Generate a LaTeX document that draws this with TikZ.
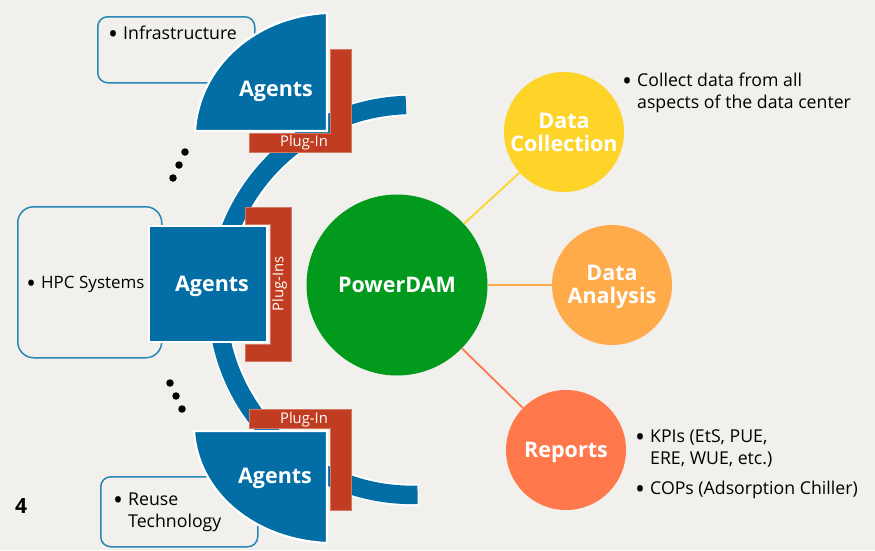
\documentclass[tikz,border=0pt]{standalone}
\usepackage{fontspec}
\setmainfont{Open Sans}
\definecolor{bgc}{HTML}{F1F0EC}
\definecolor{agentblue}{HTML}{026EA5}
\definecolor{boxblue}{HTML}{2A86B6}
\definecolor{plugred}{HTML}{C13D22}
\definecolor{dgreen}{HTML}{029A1C}
\definecolor{dyellow}{HTML}{FFD429}
\definecolor{dorange}{HTML}{FFAB4A}
\definecolor{dcoral}{HTML}{FF784B}
\tikzset{
  x=1pt,y=-1pt,
  sysbox/.style={draw=boxblue,line width=1.5pt,fill=bgc,inner sep=0pt,anchor=north west},
  agentshape/.style={fill=agentblue,draw=white,line width=2.2pt,miter limit=10},
  plug/.style={fill=plugred,draw=plugred!70!white,line width=0.5pt},
  plugtext/.style={text=white,font=\fontsize{14.8}{17}\selectfont,inner sep=0pt},
  agenttext/.style={text=white,font=\fontsize{21.5}{24}\bfseries\selectfont,inner sep=0pt},
  itemtext/.style={text=black,font=\fontsize{17.7}{22}\selectfont,inner sep=0pt,anchor=north west},
  hub/.style={circle,fill=#1,inner sep=0pt},
  hubtext/.style={text=white,align=center,inner sep=0pt,font=\fontsize{21.5}{23}\bfseries\selectfont},
  link/.style={line width=1.8pt},
  tick/.style={circle,fill=black,inner sep=0pt,minimum size=7.5pt},
}
\newcommand{\bul}[1]{\begin{tabular}[t]{@{}l@{}l@{}}\makebox[10pt][l]{\makebox[0pt]{\raisebox{-3.5pt}{\scalebox{1.5}{\textbullet}}}} & #1\end{tabular}}
\begin{document}
\begin{tikzpicture}
\useasboundingbox (0,0) rectangle (875,550);
\fill[bgc] (0,0) rectangle (875,550);

% system boxes
\node[sysbox,rounded corners=10pt,minimum width=157pt,minimum height=66pt] (infra) at (97,16) {};
\node[sysbox,rounded corners=16pt,minimum width=144pt,minimum height=151pt] (hpc) at (17,206) {};
\node[sysbox,rounded corners=10pt,minimum width=157pt,minimum height=70pt] (reuse) at (100,476) {};
\node[itemtext] (infratext) at (113,24) {\bul{Infrastructure}};
\node[itemtext,font=\fontsize{17}{22}\selectfont] (hpctext) at (31,273) {\bul{HPC Systems}};
\node[itemtext] (reusetext) at (118,490) {\bul{Reuse\\[0pt] & Technology}};

% big arc
\draw[white,line width=22pt] (406.5,105) arc[start angle=91.8,end angle=271.8,radius=195pt];
\draw[agentblue,line width=18.5pt] (406,105) arc[start angle=91.8,end angle=271.6,radius=195pt];

% plug-ins
\fill[plug] (330,49) -- (351,49) -- (351,152) -- (249,152) -- (249,133) -- (330,133) -- cycle;
\fill[plug] (245,207) -- (291,207) -- (291,361) -- (245,361) -- (245,344) -- (270,344) -- (270,224) -- (245,224) -- cycle;
\fill[plug] (249,409) -- (351,409) -- (351,510) -- (330,510) -- (330,428) -- (249,428) -- cycle;

% agents
\draw[agentshape] (327,131) -- (195,131) .. controls (199,66) and (256,16) .. (327,13) -- cycle;
\draw[agentshape] (149,226) rectangle (267,342);
\draw[agentshape] (327,431) -- (194,431) .. controls (198,494) and (256,540) .. (327,543) -- cycle;

\node[agenttext] (a1) at (276,91) {Agents};
\node[agenttext] (a2) at (212,286) {Agents};
\node[agenttext] (a3) at (275,478) {Agents};
\node[plugtext] (p1) at (304,143) {Plug-In};
\node[plugtext,rotate=90] (p2) at (279.5,284) {Plug-Ins};
\node[plugtext] (p3) at (304,420) {Plug-In};

% ellipsis dots
\node[tick] (d1) at (185,152) {};
\node[tick] (d2) at (179,165) {};
\node[tick] (d3) at (173,178) {};
\node[tick] (d4) at (170,383) {};
\node[tick] (d5) at (176,396) {};
\node[tick] (d6) at (182,409) {};

% hub
\node[hub=dgreen,minimum size=181pt] (pd) at (397,285) {};
\node[hub=dyellow,minimum size=120pt] (coll) at (564,132) {};
\node[hub=dorange,minimum size=120pt] (ana) at (612,285) {};
\node[hub=dcoral,minimum size=120pt] (rep) at (566,450) {};
\draw[link,dyellow] (pd) -- (coll);
\draw[link,dorange] (pd) -- (ana);
\draw[link,dcoral] (pd) -- (rep);
\node[hubtext] (pdtext) at (397,285) {PowerDAM};
\node[hubtext] (colltitle) at (564,132) {Data\\Collection};
\node[hubtext] (anatitle) at (612,286.5) {Data\\Analysis};
\node[hubtext] (reptitle) at (566,452.5) {Reports};

\node[itemtext] (colltext) at (627,71) {\bul{Collect data from all\\[0pt] & aspects of the data center}};
\node[itemtext] (kpi) at (640,427) {\bul{KPIs (EtS, PUE,\\[0pt] & ERE, WUE, etc.)}};
\node[itemtext] (cop) at (640,479) {\bul{COPs (Adsorption Chiller)}};
\node[text=black,font=\fontsize{21}{24}\bfseries\selectfont,inner sep=0pt] (num) at (21,506) {4};
\end{tikzpicture}
\end{document}
